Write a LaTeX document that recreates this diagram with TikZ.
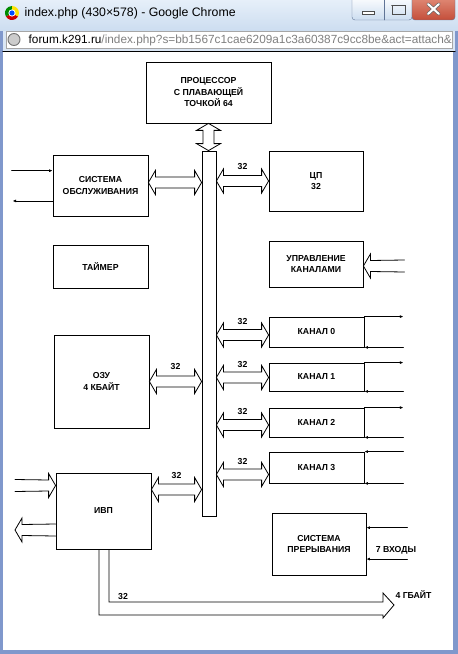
\documentclass[tikz,border=0pt]{standalone}
\usepackage{fontspec}
\setmainfont{Liberation Sans}
\usetikzlibrary{arrows.meta,calc,positioning}
\definecolor{frameB}{RGB}{128,152,204}
\definecolor{titleT}{RGB}{230,239,249}
\definecolor{titleB}{RGB}{204,221,240}
\definecolor{barB}{RGB}{218,230,244}
\definecolor{urlG}{RGB}{128,128,128}
\definecolor{closeR}{RGB}{196,78,58}
\definecolor{closeT}{RGB}{226,142,122}
\definecolor{btnE}{RGB}{96,116,150}
\tikzset{
  blk/.style={draw, line width=0.8bp, minimum width=95bp, align=center, inner sep=1bp,
    font=\fontsize{8.7bp}{11.5bp}\selectfont\bfseries},
  lbl/.style={inner sep=0.5bp, font=\fontsize{8.7bp}{10bp}\selectfont\bfseries},
  sig/.style={line width=0.7bp, -{Latex[length=3.5bp,width=3bp]}},
  % hohler Doppelpfeil (Bus)
  wide/.style={line width=0.8bp, line join=miter, to path={
    -- ($(\tikztostart)!13.89bp!59.74:(\tikztotarget)$)
    -- ($(\tikztostart)!8.90bp!38.16:(\tikztotarget)$)
    -- ($(\tikztotarget)!8.90bp!-38.16:(\tikztostart)$)
    -- ($(\tikztotarget)!13.89bp!-59.74:(\tikztostart)$)
    -- (\tikztotarget)
    -- ($(\tikztotarget)!13.89bp!59.74:(\tikztostart)$)
    -- ($(\tikztotarget)!8.90bp!38.16:(\tikztostart)$)
    -- ($(\tikztostart)!8.90bp!-38.16:(\tikztotarget)$)
    -- ($(\tikztostart)!13.89bp!-59.74:(\tikztotarget)$)
    -- cycle}},
  % hohler Pfeil, eine Spitze
  widein/.style={line width=0.8bp, line join=miter, to path={
    ($(\tikztostart)!6bp!90:(\tikztotarget)$)
    -- ($(\tikztotarget)!8.90bp!-38.16:(\tikztostart)$)
    -- ($(\tikztotarget)!13.89bp!-59.74:(\tikztostart)$)
    -- (\tikztotarget)
    -- ($(\tikztotarget)!13.89bp!59.74:(\tikztostart)$)
    -- ($(\tikztotarget)!8.90bp!38.16:(\tikztostart)$)
    -- ($(\tikztostart)!6bp!-90:(\tikztotarget)$)}}
}
\begin{document}
\begin{tikzpicture}[x=1bp, y=-1bp, line cap=round]
\useasboundingbox (0,0) rectangle (458,654);
% Fensterrahmen
\fill[frameB] (0,0) rectangle (458,654);
\shade[top color=titleT, bottom color=titleB] (0,0) rectangle (458,31);
\fill[barB] (3,31) rectangle (455,51);
\fill[white] (3,52) rectangle (453,650);
\draw[line width=1.3bp] (3,51.3) -- (455,51.3);
\draw[fill=white, draw=urlG!70] (6,31.5) rectangle (452,48.5);
% Knoepfe
\draw[btnE, top color=white, bottom color=titleB, rounded corners=3bp] (352,-4) rectangle (412,20);
\draw[btnE] (384,-4) -- (384,20);
\draw[btnE, top color=closeT, bottom color=closeR, rounded corners=3bp] (412,-4) rectangle (455,20);
\draw[fill=white, draw=black!70] (362,11) rectangle (374,14);
\draw[draw=black!70, line width=0.8bp] (392,5) rectangle (405,14);
\draw[draw=black!70, line width=1.6bp] (392,5.5) -- (405,5.5);
\draw[black!60, line width=3.4bp] (428,4) -- (439,14) (439,4) -- (428,14);
\draw[white, line width=2bp] (428,4) -- (439,14) (439,4) -- (428,14);
% Chrome- und Globus-Symbol
\fill[red!80!black] (12,13) -- ++(150:7) arc (150:30:7) -- cycle;
\fill[green!55!black] (12,13) -- ++(150:7) arc (150:270:7) -- cycle;
\fill[yellow!85!orange] (12,13) -- ++(270:7) arc (270:390:7) -- cycle;
\fill[white] (12,13) circle (3.6);
\fill[blue!70!cyan] (12,13) circle (2.6);
\draw[black!55, fill=black!20, line width=0.9bp] (14,39.5) circle (6);
\node[anchor=west, inner sep=0, font=\fontsize{12.3bp}{13bp}\selectfont] (title) at (24.5,13.5)
  {index.php (430×578) - Google Chrome};
\begin{scope}
\clip (6,31.5) rectangle (451,48.5);
\node[anchor=west, inner sep=0, font=\fontsize{11.8bp}{13bp}\selectfont] (url) at (28.5,40)
  {forum.k291.ru\textcolor{urlG}{/index.php?s=bb1567c1cae6209a1c3a60387c9cc8be\&act=attach\&}};
\end{scope}
% Bloecke
\node[blk, minimum width=125bp, minimum height=61bp] (fpu) at (208.5,92.5) {ПРОЦЕССОР\\С ПЛАВАЮЩЕЙ\\ТОЧКОЙ 64};
\node[draw, line width=0.8bp, minimum width=14bp, minimum height=365bp, inner sep=0] (bus) at (209,333.5) {};
\node[blk, minimum height=61bp] (sys) at (100.5,185.5) {СИСТЕМА\\ОБСЛУЖИВАНИЯ};
\node[blk, minimum width=94bp, minimum height=60bp] (cpu) at (316,181) {ЦП\\32};
\node[blk, minimum height=43bp] (timer) at (100.5,266.5) {ТАЙМЕР};
\node[blk, minimum width=94bp, minimum height=46bp] (chctl) at (316,264) {УПРАВЛЕНИЕ\\КАНАЛАМИ};
\node[blk, minimum height=30bp] (ch0) at (316.5,332) {КАНАЛ 0};
\node[blk, minimum height=28bp] (ch1) at (316.5,377) {КАНАЛ 1};
\node[blk, minimum height=29bp] (ch2) at (316.5,422.5) {КАНАЛ 2};
\node[blk, minimum height=31bp] (ch3) at (316.5,467.5) {КАНАЛ 3};
\node[blk, minimum height=93bp] (ram) at (101.5,381.5) {ОЗУ\\4 КБАЙТ};
\node[blk, minimum height=76bp] (ivp) at (103.5,511) {ИВП};
\node[blk, minimum width=94bp, minimum height=62bp] (intr) at (319,544) {СИСТЕМА\\ПРЕРЫВАНИЯ};
% Busverbindungen
\draw[wide] (fpu.south) to (fpu.south |- bus.north);
\coordinate (sbus) at ($(sys.east)+(0,-3)$);
\draw[wide] (sbus) to (sbus -| bus.west);
\draw[wide] (cpu.west -| bus.east) to (cpu.west);
\node[lbl] (c32) at ($(cpu.west -| bus.east)!0.5!(cpu.west)+(0,-14)$) {32};
\draw[wide] (ram.east) to (ram.east -| bus.west);
\node[lbl] (r32) at ($(ram.east)!0.5!(ram.east -| bus.west)+(0,-15)$) {32};
\coordinate (ibus) at ($(ivp.north east)!0.22!(ivp.south east)$);
\draw[wide] (ibus) to (ibus -| bus.west);
\node[lbl] (i32) at ($(ibus)!0.5!(ibus -| bus.west)+(0,-14)$) {32};
\foreach \c/\dy in {0/3,1/0.5,2/2.5,3/7}{
  \coordinate (b\c) at ($(ch\c.west)+(0,\dy)$);
  \draw[wide] (b\c -| bus.east) to (b\c);
  \node[lbl] at ($(b\c -| bus.east)!0.5!(b\c)+(0,-13)$) {32};
}
% Kanalleitungen
\foreach \c in {0,1,2}
  \draw[sig] (ch\c.north east) -- ++(39,0);
\foreach \c in {0,1,2,3}
  \draw[sig] ($(ch\c.south east)+(39,0)$) -- (ch\c.south east);
\draw[sig] ($(ch3.north east)+(39,0)$) -- (ch3.north east);
\coordinate (kin) at ($(chctl.east)+(41,2)$);
\draw[widein] (kin) to (kin -| chctl.east);
% Systemleitungen links
\coordinate (sa) at ($(sys.north west)!0.26!(sys.south west)$);
\coordinate (sb) at ($(sys.north west)!0.75!(sys.south west)$);
\draw[sig] ($(sa)+(-41,0)$) -- (sa);
\draw[sig] (sb) -- ($(sb)+(-40,0)$);
\coordinate (ivpin) at (15,485.5);
\coordinate (ivpout) at (15,530);
\draw[widein] (ivpin) to (ivpin -| ivp.west);
\draw[widein] (ivpout -| ivp.west) to (ivpout);
% Speicherbus 4 GB
\coordinate (mem) at (394,605);
\draw[line width=0.8bp, line join=miter] ($(ivp.south)+(-4.5,0)$) |- ($(mem)+(-11,10)$) -- ($(mem)+(-11,13)$)
  -- (mem) -- ($(mem)+(-11,-12)$) -- ($(mem)+(-11,-3)$) -| ($(ivp.south)+(5.5,0)$);
\node[lbl] (m32) at (123,597) {32};
\node[lbl] (gb) at (413.5,595) {4 ГБАЙТ};
% Unterbrechungen
\coordinate (ia) at ($(intr.north east)!0.24!(intr.south east)$);
\coordinate (ib) at ($(intr.north east)!0.74!(intr.south east)$);
\draw[sig] ($(ia)+(41,0)$) -- (ia);
\draw[sig] ($(ib)+(41,0)$) -- (ib);
\node[lbl] (inp) at (396,550) {7 ВХОДЫ};
\end{tikzpicture}
\end{document}
